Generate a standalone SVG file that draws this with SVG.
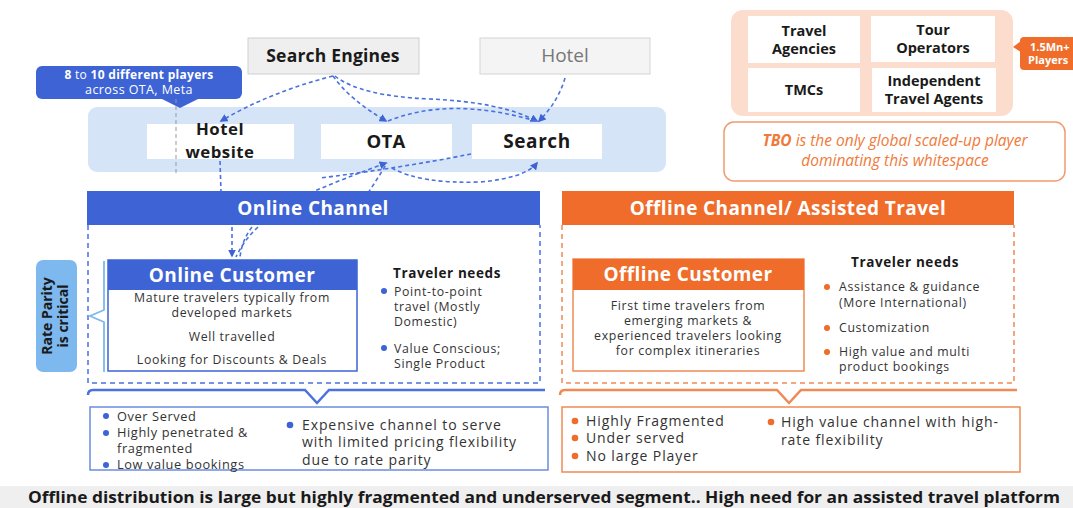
<svg xmlns="http://www.w3.org/2000/svg" width="1073" height="508" viewBox="0 0 1073 508">
<style>
text{font-family:"Open Sans","Noto Sans","Liberation Sans",sans-serif;}
.b{font-weight:700;}
.c{text-anchor:middle;}
.dk{fill:#1a1a1a;}
.body{fill:#333;font-size:12.3px;letter-spacing:0.65px;}
.sml{fill:#333;font-size:12.8px;letter-spacing:0.6px;}
.sum{fill:#333;font-size:14px;letter-spacing:0.9px;}
.wh{fill:#fff;}
.hdr{font-size:19px;font-weight:700;fill:#fff;text-anchor:middle;letter-spacing:0.4px;}
.need{font-size:13.5px;font-weight:700;fill:#1a1a1a;letter-spacing:0.6px;}
.con{fill:none;stroke:#4a72de;stroke-width:1.6;stroke-dasharray:4 3;}
.bdot{fill:#3d63d5;}
.odot{fill:#ef6c2a;}
.wbox{fill:#fff;}
.tile{font-size:14.5px;font-weight:700;fill:#1a1a1a;text-anchor:middle;}
</style>
<defs>
<marker id="ah" viewBox="0 0 10 10" refX="8" refY="5" markerWidth="5" markerHeight="5" orient="auto-start-reverse">
<path d="M0,0 L10,5 L0,10 z" fill="#3d63d5"/>
</marker>
</defs>
<rect width="1073" height="508" fill="#fff"/>

<!-- top sources -->
<g id="search-engines">
<rect x="248" y="38" width="171" height="36" fill="#efefef" stroke="#cfcfcf"/>
<text x="333" y="62" class="b c dk" font-size="17.5" letter-spacing="0.2">Search Engines</text>
</g>
<g id="hotel-src">
<rect x="480" y="38" width="170" height="36" fill="#f4f4f4" stroke="#d4d4d4"/>
<text x="565" y="62" class="c" font-size="19" fill="#777">Hotel</text>
</g>

<!-- light blue panel -->
<g id="online-panel">
<rect x="88" y="107" width="578" height="65" rx="9" fill="#d5e4f7"/>
</g>
<g id="players-callout">
<rect x="36" y="66" width="206" height="33" rx="6" fill="#3d63d5"/>
<path d="M160,98 L180,108 L200,98 z" fill="#3d63d5"/>
<text x="139" y="79" class="c wh" font-size="12" letter-spacing="0.3"><tspan font-weight="700">8</tspan> to <tspan font-weight="700">10 different players</tspan></text>
<text x="139" y="94" class="c wh" font-size="12.5" letter-spacing="0.4">across OTA, Meta</text>
</g>
<g id="hotel-website">
<rect x="147" y="124" width="147" height="35" class="wbox"/>
<text x="220" y="135" class="b c dk" font-size="16.8" letter-spacing="0.5">Hotel</text>
<text x="220" y="158" class="b c dk" font-size="16.8" letter-spacing="0.5">website</text>
</g>
<g id="ota">
<rect x="321" y="124" width="131" height="35" class="wbox"/>
<text x="386" y="148" class="b c dk" font-size="18.5" letter-spacing="0.3">OTA</text>
</g>
<g id="search">
<rect x="472" y="124" width="130" height="35" class="wbox"/>
<text x="537" y="148" class="b c dk" font-size="19" letter-spacing="0.6">Search</text>
</g>
<line x1="176" y1="99" x2="176" y2="176" stroke="#999" stroke-width="1" stroke-dasharray="4 3"/>

<!-- connectors -->
<g id="connectors">
<path class="con" d="M333,76 Q270,92 221,121" marker-end="url(#ah)"/>
<path class="con" d="M333,76 Q350,100 386,121" marker-end="url(#ah)"/>
<path class="con" d="M335,76 Q360,96 430,99 Q500,102 537,121" marker-end="url(#ah)"/>
<path class="con" d="M565,78 Q558,102 539,121" marker-end="url(#ah)"/>
<path class="con" d="M388,121 Q450,96 536,121"/>
<path class="con" d="M220,161 L221,192"/>
<path class="con" d="M310,193 Q345,178 386,163" marker-end="url(#ah)"/>
<path class="con" d="M368,193 Q378,178 387,163"/>
<path class="con" d="M392,168 Q420,184 480,182 Q525,178 537,163" marker-end="url(#ah)"/>
<path class="con" d="M471,154 Q400,168 320,178"/>
<path class="con" d="M232,227 L232,256" marker-end="url(#ah)"/>
<path class="con" d="M258,227 Q244,240 236,257"/>
<path class="con" d="M252,227 Q242,240 240,257"/>
</g>

<!-- online channel -->
<g id="online-channel">
<rect x="87" y="191" width="453" height="34" fill="#3d63d5"/>
<text x="313" y="215" class="hdr">Online Channel</text>
<path d="M88,225 L88,383 L540,383 L540,225" fill="none" stroke="#4a72de" stroke-width="1.5" stroke-dasharray="5 4"/>
</g>
<g id="rate-parity">
<rect x="36" y="260" width="41" height="112" rx="7" fill="#7db8ee"/>
<text transform="translate(52,316) rotate(-90)" class="b c dk" font-size="14">Rate Parity</text>
<text transform="translate(68,316) rotate(-90)" class="b c dk" font-size="14">is critical</text>
<path d="M104,261 L104,310 L90,316 L104,322 L104,372" fill="none" stroke="#7db8ee" stroke-width="1.8"/>
</g>
<g id="online-customer">
<rect x="108" y="260" width="249" height="111" fill="#fff" stroke="#3d63d5" stroke-width="1.5"/>
<rect x="108" y="260" width="249" height="30" fill="#3d63d5"/>
<text x="232" y="282" class="hdr">Online Customer</text>
<text x="232" y="302" class="c body">Mature travelers typically from</text>
<text x="232" y="317" class="c body">developed markets</text>
<text x="232" y="341" class="c body">Well travelled</text>
<text x="232" y="364" class="c body">Looking for Discounts &amp; Deals</text>
</g>
<g id="online-needs">
<text x="393" y="278" class="need">Traveler needs</text>
<circle cx="384" cy="291" r="3" class="bdot"/>
<text x="394" y="296" class="body">Point-to-point</text>
<text x="394" y="311" class="body">travel (Mostly</text>
<text x="394" y="326" class="body">Domestic)</text>
<circle cx="384" cy="348" r="3" class="bdot"/>
<text x="394" y="353" class="body">Value Conscious;</text>
<text x="394" y="368" class="body">Single Product</text>
</g>
<g id="online-summary">
<path d="M88,395 Q88,390 93,390 L305,390 L317,403 L329,390 L545,390" fill="none" stroke="#4a72de" stroke-width="2.5"/>
<rect x="90" y="407" width="458" height="63" fill="#fff" stroke="#6b8de0" stroke-width="1.5"/>
<circle cx="106" cy="416" r="3" class="bdot"/>
<text x="117" y="421" class="sml">Over Served</text>
<circle cx="106" cy="433" r="3" class="bdot"/>
<text x="117" y="437" class="sml">Highly penetrated &amp;</text>
<text x="117" y="453" class="sml">fragmented</text>
<circle cx="106" cy="465" r="3" class="bdot"/>
<text x="117" y="469" class="sml">Low value bookings</text>
<circle cx="290" cy="425" r="3.3" class="bdot"/>
<text x="302" y="430" class="sum">Expensive channel to serve</text>
<text x="302" y="447" class="sum">with limited pricing flexibility</text>
<text x="302" y="465" class="sum">due to rate parity</text>
</g>

<!-- offline -->
<g id="players-panel">
<rect x="731" y="10" width="282" height="106" rx="12" fill="#fbdccd"/>
</g>
<g id="travel-agencies">
<rect x="748" y="16" width="112" height="47" class="wbox"/>
<text x="804" y="36" class="tile">Travel</text>
<text x="804" y="54" class="tile">Agencies</text>
</g>
<g id="tour-operators">
<rect x="871" y="16" width="124" height="46" class="wbox"/>
<text x="933" y="35" class="tile">Tour</text>
<text x="933" y="53" class="tile">Operators</text>
</g>
<g id="tmcs">
<rect x="748" y="68" width="112" height="44" class="wbox"/>
<text x="804" y="95" class="tile">TMCs</text>
</g>
<g id="independent-agents">
<rect x="872" y="68" width="124" height="44" class="wbox"/>
<text x="934" y="86" class="tile">Independent</text>
<text x="934" y="104" class="tile">Travel Agents</text>
</g>
<g id="players-badge">
<rect x="1020" y="37" width="60" height="33" rx="4" fill="#ef6c2a"/>
<path d="M1021,41 L1013,47 L1021,52 z" fill="#ef6c2a"/>
<text x="1030" y="51" class="b wh" font-size="11">1.5Mn+</text>
<text x="1028" y="64" class="b wh" font-size="11">Players</text>
</g>
<g id="tbo-note">
<rect x="724" y="122" width="341" height="59" rx="10" fill="#fff" stroke="#f29a6e" stroke-width="1.5"/>
<text x="895" y="146" class="c" font-size="15.5" font-style="italic" fill="#f07a3a"><tspan font-weight="700">TBO</tspan> is the only global scaled-up player</text>
<text x="895" y="166" class="c" font-size="15.5" font-style="italic" fill="#f07a3a">dominating this whitespace</text>
</g>
<g id="offline-channel">
<rect x="562" y="191" width="452" height="34" fill="#ef6c2a"/>
<text x="788" y="215" class="hdr">Offline Channel/ Assisted Travel</text>
<path d="M562,225 L562,383 L1014,383 L1014,225" fill="none" stroke="#f08a55" stroke-width="1.5" stroke-dasharray="5 4"/>
</g>
<g id="offline-customer">
<rect x="573" y="259" width="231" height="112" fill="#fff" stroke="#f08a55" stroke-width="1.5"/>
<rect x="573" y="259" width="231" height="31" fill="#ef6c2a"/>
<text x="688" y="281" class="hdr">Offline Customer</text>
<text x="688" y="310" class="c body">First time travelers from</text>
<text x="688" y="325" class="c body">emerging markets &amp;</text>
<text x="688" y="340" class="c body">experienced travelers looking</text>
<text x="688" y="355" class="c body">for complex itineraries</text>
</g>
<g id="offline-needs">
<text x="905" y="267" class="need c">Traveler needs</text>
<circle cx="827" cy="287" r="3" class="odot"/>
<text x="839" y="291" class="body">Assistance &amp; guidance</text>
<text x="839" y="307" class="body">(More International)</text>
<circle cx="827" cy="328" r="3" class="odot"/>
<text x="839" y="332" class="body">Customization</text>
<circle cx="827" cy="352" r="3" class="odot"/>
<text x="839" y="356" class="body">High value and multi</text>
<text x="839" y="371" class="body">product bookings</text>
</g>
<g id="offline-summary">
<path d="M560,395 Q560,390 565,390 L777,390 L789,403 L801,390 L1017,390" fill="none" stroke="#f08a55" stroke-width="2.5"/>
<rect x="562" y="407" width="458" height="65" fill="#fff" stroke="#f08a55" stroke-width="1.5"/>
<circle cx="575" cy="421" r="3.3" class="odot"/>
<text x="586" y="426" class="sum">Highly Fragmented</text>
<circle cx="575" cy="438" r="3.3" class="odot"/>
<text x="586" y="443" class="sum">Under served</text>
<circle cx="575" cy="456" r="3.3" class="odot"/>
<text x="586" y="461" class="sum">No large Player</text>
<circle cx="771" cy="422" r="3.3" class="odot"/>
<text x="781" y="427" class="sum">High value channel with high-</text>
<text x="781" y="445" class="sum">rate flexibility</text>
</g>

<g id="banner">
<rect x="0" y="486" width="1073" height="22" fill="#efefef"/>
<text x="28" y="503" class="b dk" font-size="16" textLength="1032" lengthAdjust="spacingAndGlyphs">Offline distribution is large but highly fragmented and underserved segment.. High need for an assisted travel platform</text>
</g>
</svg>
